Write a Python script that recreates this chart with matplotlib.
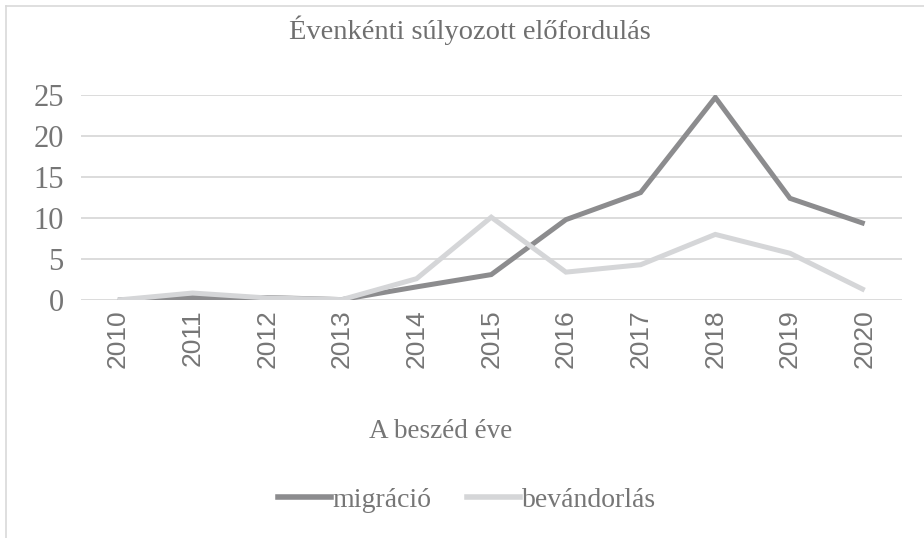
import matplotlib
matplotlib.use("Agg")
import matplotlib.pyplot as plt
from matplotlib.lines import Line2D

years = ["2010", "2011", "2012", "2013", "2014", "2015", "2016", "2017", "2018", "2019", "2020"]
migracio = [0.0, 0.3, 0.3, 0.05, 1.6, 3.1, 9.8, 13.1, 24.7, 12.4, 9.3]
bevandorlas = [0.0, 0.85, 0.25, 0.05, 2.6, 10.1, 3.4, 4.3, 8.0, 5.7, 1.2]
yticks = [0, 5, 10, 15, 20, 25]

dark = "#8c8c8e"
light = "#d5d6d8"
grid = "#d9d9d9"
txt = "#767676"
serif = ["Liberation Serif", "DejaVu Serif"]

fig = plt.figure(figsize=(9.24, 5.38), dpi=100)
ax = fig.add_axes([80.5 / 924, 1 - 300 / 538, (902 - 80.5) / 924, 205 / 538])
x = list(range(len(years)))
ax.plot(x, migracio, color=dark, lw=3.6, solid_capstyle="butt", solid_joinstyle="miter", label="migráció", zorder=3)
ax.plot(x, bevandorlas, color=light, lw=3.6, solid_capstyle="butt", solid_joinstyle="miter", label="bevándorlás", zorder=4)
ax.set_xlim(-0.5, len(years) - 0.5)
ax.set_ylim(0, 25)
ax.set_yticks(yticks)
ax.set_yticklabels([str(v) for v in yticks], family=serif, fontsize=22, color=txt)
ax.set_xticks(x)
ax.set_xticklabels(years, rotation=90, family=["Liberation Sans", "DejaVu Sans"], fontsize=19, color=txt)
ax.tick_params(length=0, pad=7)
ax.tick_params(axis="y", pad=12)
for s in ax.spines.values():
    s.set_visible(False)
ax.grid(axis="y", color=grid, lw=1.3, zorder=0)
ax.set_axisbelow(True)

fig.text(470 / 924, 1 - 30 / 538, "Évenkénti súlyozott előfordulás", ha="center", va="center",
         family=serif, fontsize=20.5, color="#6f6f6f")
fig.text(441 / 924, 1 - 432 / 538, "A beszéd éve", ha="center", va="center",
         family=serif, fontsize=19.5, color=txt)

handles = [Line2D([], [], color=dark, lw=4), Line2D([], [], color=light, lw=4)]
leg = fig.legend(handles, ["migráció", "bevándorlás"], loc="center", bbox_to_anchor=(467 / 924, 1 - 500 / 538),
                 ncol=2, frameon=False, prop={"family": serif, "size": 20}, handlelength=1.9,
                 handletextpad=0.05, columnspacing=1.3, labelcolor=txt)

fig.add_artist(Line2D([6 / 924, 6 / 924], [0, 1 - 6 / 538], color=grid, lw=1.2))
fig.add_artist(Line2D([6 / 924, 1], [1 - 6 / 538, 1 - 6 / 538], color=grid, lw=1.2))

fig.savefig("out.png", dpi=100)
